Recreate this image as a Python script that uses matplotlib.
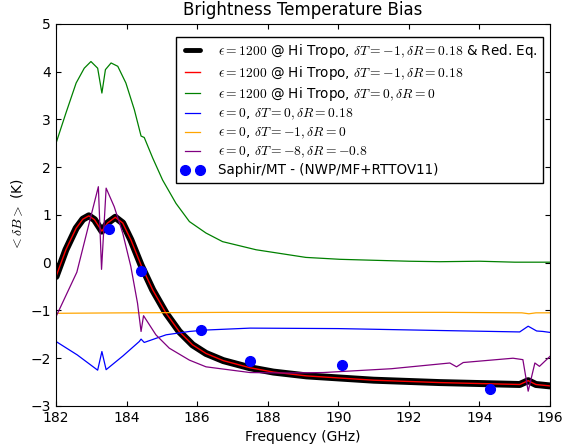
import matplotlib
matplotlib.use("Agg")
import matplotlib.pyplot as plt
import numpy as np

plt.rcParams['mathtext.fontset'] = 'cm'
plt.rcParams['font.size'] = 10
plt.rcParams['xtick.direction'] = 'in'
plt.rcParams['ytick.direction'] = 'in'
plt.rcParams['xtick.top'] = True
plt.rcParams['ytick.right'] = True

# Frequency axis points (GHz) and curves
f_red = [182.0, 182.28, 182.57, 182.76, 182.93, 183.09, 183.3, 183.46, 183.68, 183.89,
         184.12, 184.41, 184.74, 185.12, 185.49, 185.87, 186.25, 186.74, 187.5, 188.16,
         189.1, 191.0, 192.88, 195.14, 195.38, 195.6, 196.0]
bias_red = [-0.29, 0.27, 0.72, 0.91, 0.98, 0.90, 0.66, 0.83, 0.95, 0.83,
            0.48, -0.05, -0.57, -1.06, -1.44, -1.72, -1.90, -2.05, -2.20, -2.29,
            -2.37, -2.46, -2.51, -2.55, -2.47, -2.55, -2.58]

f_green = [182.0, 182.28, 182.57, 182.8, 182.99, 183.18, 183.3, 183.4, 183.56, 183.75,
           183.98, 184.22, 184.41, 184.5, 184.74, 185.02, 185.4, 185.78, 186.25, 186.72,
           187.67, 189.08, 190.05, 191.0, 192.0, 192.88, 194.0, 195.0, 196.0]
bias_green = [2.50, 3.13, 3.76, 4.07, 4.21, 4.07, 3.55, 4.04, 4.18, 4.11,
              3.76, 3.20, 2.65, 2.62, 2.19, 1.73, 1.24, 0.86, 0.62, 0.44,
              0.27, 0.11, 0.07, 0.05, 0.03, 0.02, 0.03, 0.01, 0.01]

f_blue = [182.0, 182.6, 183.18, 183.3, 183.42, 183.9, 184.36, 184.41, 184.5, 185.12,
          185.78, 186.25, 187.5, 190.0, 192.88, 195.14, 195.38, 195.62, 195.8, 196.0]
bias_blue = [-1.65, -1.93, -2.25, -1.86, -2.24, -1.95, -1.65, -1.60, -1.67, -1.51,
             -1.44, -1.41, -1.37, -1.38, -1.42, -1.45, -1.33, -1.43, -1.44, -1.46]

f_orange = [182.0, 184.0, 187.0, 190.0, 193.0, 195.2, 195.4, 195.6, 196.0]
bias_orange = [-1.06, -1.05, -1.04, -1.04, -1.04, -1.05, -1.07, -1.05, -1.05]

f_purple = [182.0, 182.59, 182.94, 183.2, 183.29, 183.42, 183.65, 183.89, 184.12, 184.31,
            184.41, 184.48, 184.83, 185.21, 185.78, 186.25, 187.5, 188.5, 189.57, 191.5,
            193.16, 193.35, 193.54, 194.95, 195.23, 195.38, 195.57, 195.7, 196.0]
bias_purple = [-1.13, -0.2, 0.83, 1.59, -0.14, 1.56, 1.17, 0.62, -0.08, -0.85,
               -1.44, -1.11, -1.51, -1.79, -2.04, -2.18, -2.30, -2.31, -2.30, -2.22,
               -2.10, -2.18, -2.09, -2.00, -2.03, -2.69, -2.10, -2.17, -1.96]

f_saphir = [183.51, 184.41, 186.11, 187.51, 190.11, 194.29]
bias_saphir = [0.70, -0.17, -1.40, -2.06, -2.15, -2.64]

labels = [
    r'$\epsilon=1200$ @ Hi Tropo, $\delta T=-1,\delta R=0.18$ & Red. Eq.',
    r'$\epsilon=1200$ @ Hi Tropo, $\delta T=-1,\delta R=0.18$',
    r'$\epsilon=1200$ @ Hi Tropo, $\delta T=0,\delta R=0$',
    r'$\epsilon=0$, $\delta T=0,\delta R=0.18$',
    r'$\epsilon=0$, $\delta T=-1,\delta R=0$',
    r'$\epsilon=0$, $\delta T=-8,\delta R=-0.8$',
    'Saphir/MT - (NWP/MF+RTTOV11)',
]

fig = plt.figure(figsize=(5.63, 4.46), dpi=100)
ax = fig.add_axes([0.0995, 0.0897, 0.8775, 0.857])

ax.plot(f_red, bias_red, color='k', lw=5, solid_capstyle='round', label=labels[0])
ax.plot(f_red, bias_red, color='r', lw=1, label=labels[1])
ax.plot(f_green, bias_green, color='g', lw=0.9, label=labels[2])
ax.plot(f_blue, bias_blue, color='b', lw=0.9, label=labels[3])
ax.plot(f_orange, bias_orange, color='orange', lw=0.9, label=labels[4])
ax.plot(f_purple, bias_purple, color='purple', lw=0.9, label=labels[5])
ax.plot(f_saphir, bias_saphir, 'o', color='b', mec='b', ms=7, label=labels[6])

ax.set_xlim(182, 196)
ax.set_ylim(-3, 5)
ax.set_xticks(np.arange(182, 197, 2))
ax.set_title('Brightness Temperature Bias', fontsize=12)
ax.set_xlabel('Frequency (GHz)')
ax.set_ylabel(r'$<\delta B>$ (K)')

leg = ax.legend(loc='upper right', bbox_to_anchor=(0.986, 0.966), borderaxespad=0,
                numpoints=2, fancybox=False, fontsize=9.75, framealpha=1,
                edgecolor='k', handlelength=1.7, handletextpad=1.0,
                labelspacing=0.25)
leg.get_frame().set_linewidth(1)
leg.legend_handles[0].set_linewidth(3.5)

fig.savefig('out.png', dpi=100, facecolor='white')
